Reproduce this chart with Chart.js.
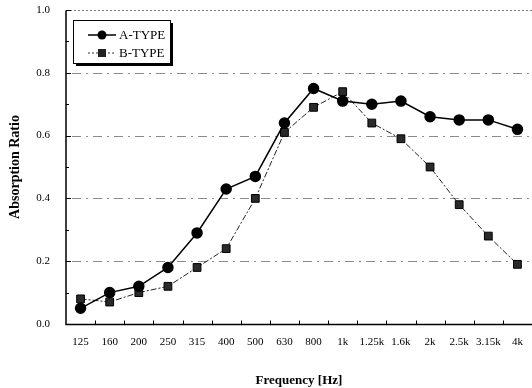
<!DOCTYPE html>
<html>
<head>
<meta charset="utf-8">
<script src="https://cdn.jsdelivr.net/npm/chart.js@4/dist/chart.umd.min.js"></script>
<style>
html,body{margin:0;padding:0;background:#fff;}
#wrap{width:532px;height:388px;position:relative;}
</style>
</head>
<body>
<div id="wrap"><canvas id="c" width="532" height="388"></canvas></div>
<script>
const categories = ['125','160','200','250','315','400','500','630','800','1k','1.25k','1.6k','2k','2.5k','3.15k','4k'];
const typeA = [0.05,0.10,0.12,0.18,0.29,0.43,0.47,0.64,0.75,0.71,0.70,0.71,0.66,0.65,0.65,0.62];
const typeB = [0.08,0.07,0.10,0.12,0.18,0.24,0.40,0.61,0.69,0.74,0.64,0.59,0.50,0.38,0.28,0.19];
const yTicks = [0.0,0.2,0.4,0.6,0.8,1.0];
const seriesNames = ['A-TYPE','B-TYPE'];

const SERIF = '"Liberation Serif","DejaVu Serif",serif';

const decor = {
  id:'decor',
  beforeDatasetsDraw(chart){
    const {ctx, chartArea:a, scales:{x,y}} = chart;
    ctx.save();
    ctx.strokeStyle = '#8a8a8a';
    ctx.lineWidth = 1;
    ctx.setLineDash([9,5,2,5]);
    [0.2,0.4,0.6,0.8].forEach(v=>{
      const py = Math.round(y.getPixelForValue(v))+0.5;
      ctx.beginPath(); ctx.moveTo(a.left+6,py); ctx.lineTo(a.right,py); ctx.stroke();
    });
    ctx.strokeStyle = '#777';
    ctx.setLineDash([2,2]);
    const ty = Math.round(y.getPixelForValue(1.0))+0.5;
    ctx.beginPath(); ctx.moveTo(a.left,ty); ctx.lineTo(a.right,ty); ctx.stroke();
    ctx.setLineDash([]);
    ctx.strokeStyle = '#000';
    ctx.lineWidth = 1.5;
    const by = Math.round(y.getPixelForValue(0))+0.5;
    ctx.beginPath(); ctx.moveTo(a.left,ty); ctx.lineTo(a.left,by); ctx.lineTo(a.right,by); ctx.stroke();
    ctx.lineWidth = 1;
    for(let i=0;i<=10;i++){
      const py = Math.round(y.getPixelForValue(i/10))+0.5;
      const len = (i%2===0)?5:3;
      ctx.beginPath(); ctx.moveTo(a.left,py); ctx.lineTo(a.left+len,py); ctx.stroke();
    }
    for(let i=1;i<=categories.length;i++){
      const px = Math.round(x.getPixelForValue(i-0.5))+0.5;
      ctx.beginPath(); ctx.moveTo(px,by); ctx.lineTo(px,by-4); ctx.stroke();
    }
    ctx.restore();
  },
  afterDraw(chart){
    const {ctx} = chart;
    ctx.save();
    const bx=73, by=20, bw=97, bh=43;
    ctx.fillStyle='#000';
    ctx.fillRect(bx+3,by+3,bw,bh);
    ctx.fillStyle='#fff';
    ctx.fillRect(bx,by,bw,bh);
    ctx.strokeStyle='#000'; ctx.lineWidth=1;
    ctx.strokeRect(bx+0.5,by+0.5,bw,bh);
    const ys=[35,53];
    ctx.font = '13px '+SERIF;
    ctx.textBaseline='middle';
    ys.forEach((yy,i)=>{
      ctx.strokeStyle = i===0?'#000':'#333';
      ctx.lineWidth = i===0?1.5:1;
      ctx.setLineDash(i===0?[]:[2,2]);
      ctx.beginPath(); ctx.moveTo(88,yy); ctx.lineTo(116,yy); ctx.stroke();
      ctx.setLineDash([]);
      ctx.fillStyle = i===0?'#000':'#222';
      if(i===0){ ctx.beginPath(); ctx.arc(102,yy,4.5,0,Math.PI*2); ctx.fill(); }
      else { ctx.fillRect(98,yy-4,8,8); }
      ctx.fillStyle='#000';
      ctx.fillText(seriesNames[i],119,yy+1);
    });
    ctx.restore();
  }
};

new Chart(document.getElementById('c'),{
  type:'line',
  data:{
    labels:categories,
    datasets:[
      {label:seriesNames[0],data:typeA,borderColor:'#000',borderWidth:1.5,backgroundColor:'#000',
       pointStyle:'circle',pointRadius:5,pointBackgroundColor:'#000',pointBorderColor:'#000',tension:0},
      {label:seriesNames[1],data:typeB,borderColor:'#222',borderWidth:1,borderDash:[6,2,2,2],backgroundColor:'#222',
       pointStyle:'rect',pointRadius:5.5,pointBackgroundColor:'#2a2a2a',pointBorderColor:'#000',pointBorderWidth:1,tension:0}
    ]
  },
  options:{
    responsive:false,
    animation:false,
    devicePixelRatio:1,
    layout:{autoPadding:false,padding:{top:10,right:0,left:0,bottom:0}},
    plugins:{legend:{display:false},tooltip:{enabled:false}},
    scales:{
      x:{
        offset:true,
        grid:{display:false,drawTicks:false},
        border:{display:false},
        ticks:{font:{family:SERIF,size:11},color:'#000',padding:12,maxRotation:0,autoSkip:false},
        title:{display:true,text:'Frequency [Hz]',font:{family:SERIF,size:13,weight:'bold'},color:'#000',padding:{top:17,bottom:0}},
        afterFit(s){ s.height = 64; s.paddingLeft = 0; s.paddingRight = 0; }
      },
      y:{
        min:0,max:1,
        afterBuildTicks(s){ s.ticks = yTicks.map(v=>({value:v})); },
        grid:{display:false,drawTicks:false},
        border:{display:false},
        ticks:{font:{family:SERIF,size:11},color:'#000',padding:16,callback:v=>Number(v).toFixed(1)},
        title:{display:true,text:'Absorption Ratio',font:{family:SERIF,size:14,weight:'bold'},color:'#000',padding:{top:7,bottom:4}},
        afterFit(s){ s.width = 66; s.paddingTop = 0; s.paddingBottom = 0; }
      }
    }
  },
  plugins:[decor]
});
</script>
</body>
</html>
